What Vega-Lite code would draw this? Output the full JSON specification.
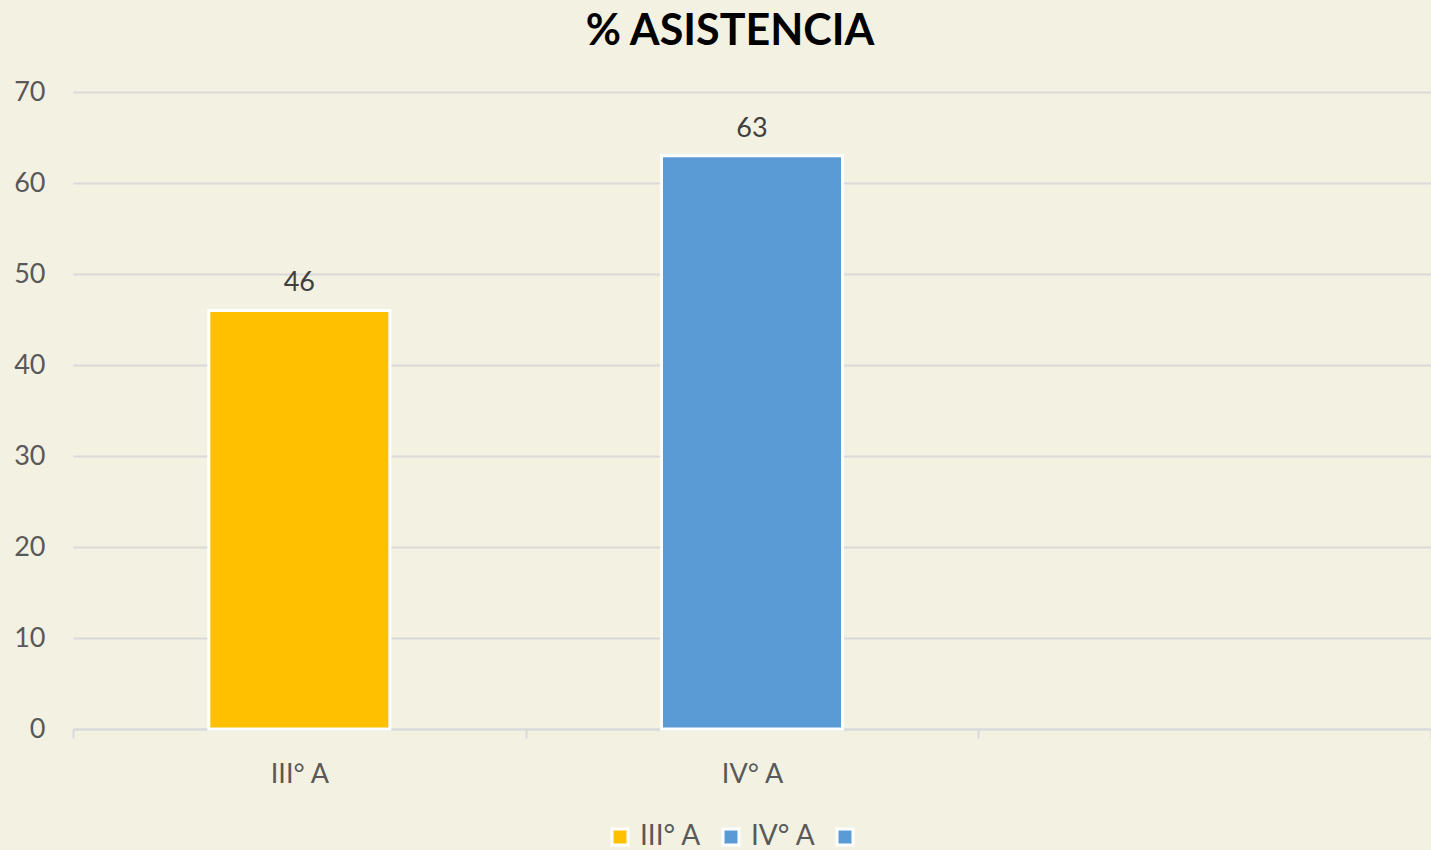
{
  "$schema": "https://vega.github.io/schema/vega-lite/v6.json",
  "width": 1358,
  "height": 637,
  "autosize": {"type": "none"},
  "padding": {"left": 73, "top": 92, "right": 0, "bottom": 121},
  "background": "#F3F2E2",
  "config": {
    "view": {"stroke": null},
    "font": "Lato"
  },
  "title": {
    "text": "% ASISTENCIA",
    "fontSize": 43,
    "fontWeight": "bold",
    "color": "#000000",
    "font": "Lato",
    "anchor": "middle",
    "offset": 24,
    "dx": -22
  },
  "data": {
    "values": [
      {"curso": "III° A", "asistencia": 46},
      {"curso": "IV° A", "asistencia": 63}
    ]
  },
  "encoding": {
    "x": {
      "field": "curso",
      "type": "nominal",
      "sort": null,
      "scale": {"domain": ["III° A", "IV° A", " "], "paddingInner": 0, "paddingOuter": 0},
      "axis": {
        "title": null,
        "labelAngle": 0,
        "labelFontSize": 27,
        "labelColor": "#595959",
        "labelPadding": 23,
        "tickBand": "extent",
        "ticks": true,
        "tickSize": 9,
        "tickColor": "#D9D9D9",
        "tickWidth": 2,
        "domainColor": "#D9D9D9",
        "domainWidth": 2,
        "grid": false
      }
    },
    "y": {
      "field": "asistencia",
      "type": "quantitative",
      "scale": {"domain": [0, 70], "nice": false},
      "axis": {
        "title": null,
        "values": [0, 10, 20, 30, 40, 50, 60, 70],
        "labelFontSize": 27,
        "labelColor": "#595959",
        "labelPadding": 28,
        "ticks": false,
        "domain": false,
        "gridColor": "#D9D9D9",
        "gridWidth": 2
      }
    }
  },
  "layer": [
    {
      "mark": {"type": "bar", "width": {"band": 0.4}, "stroke": "#FFFFFF", "strokeWidth": 3},
      "encoding": {
        "color": {
          "field": "curso",
          "type": "nominal",
          "scale": {"domain": ["III° A", "IV° A", " "], "range": ["#FFC000", "#5B9BD5", "#5B9BD5"]},
          "legend": {
            "title": null,
            "orient": "none",
            "direction": "horizontal",
            "legendX": 533,
            "legendY": 731,
            "symbolType": "square",
            "symbolSize": 256,
            "symbolStrokeColor": "#FFFFFF",
            "symbolStrokeWidth": 3,
            "symbolOpacity": 1,
            "labelFontSize": 28,
            "labelColor": "#595959",
            "labelOffset": 6,
            "columnPadding": 15
          }
        }
      }
    },
    {
      "mark": {"type": "text", "baseline": "alphabetic", "dy": -19, "fontSize": 27, "color": "#404040"},
      "encoding": {
        "text": {"field": "asistencia", "type": "quantitative"}
      }
    }
  ]
}
